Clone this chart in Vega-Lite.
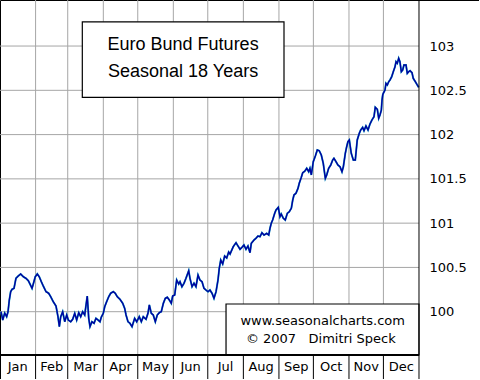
{
  "$schema": "https://vega.github.io/schema/vega-lite/v6.json",
  "width": 479,
  "height": 379,
  "padding": 0,
  "autosize": {"type": "none"},
  "background": "white",
  "config": {"view": {"stroke": "black", "strokeWidth": 1}},
  "datasets": {
    "series": [
      {"day": 0.9, "price": 100.0}, {"day": 2.4, "price": 99.906}, {"day": 4.1, "price": 99.985}, {"day": 5.8, "price": 99.944},
      {"day": 7.0, "price": 100.0}, {"day": 8.1, "price": 100.132}, {"day": 9.3, "price": 100.226}, {"day": 10.5, "price": 100.253},
      {"day": 12.2, "price": 100.264}, {"day": 13.9, "price": 100.377}, {"day": 15.9, "price": 100.403}, {"day": 18.0, "price": 100.426},
      {"day": 20.3, "price": 100.395}, {"day": 22.6, "price": 100.377}, {"day": 24.7, "price": 100.35}, {"day": 26.1, "price": 100.313},
      {"day": 27.9, "price": 100.264}, {"day": 29.0, "price": 100.313}, {"day": 30.7, "price": 100.395}, {"day": 32.5, "price": 100.426},
      {"day": 34.2, "price": 100.395}, {"day": 36.0, "price": 100.339}, {"day": 37.7, "price": 100.29}, {"day": 40.1, "price": 100.226},
      {"day": 42.4, "price": 100.208}, {"day": 44.2, "price": 100.169}, {"day": 46.4, "price": 100.113}, {"day": 48.8, "price": 100.064},
      {"day": 50.5, "price": 99.944}, {"day": 51.7, "price": 99.831}, {"day": 52.9, "price": 99.944}, {"day": 54.6, "price": 100.0},
      {"day": 56.4, "price": 99.887}, {"day": 58.1, "price": 99.963}, {"day": 59.5, "price": 99.906}, {"day": 61.6, "price": 99.887},
      {"day": 63.3, "price": 99.914}, {"day": 65.1, "price": 99.982}, {"day": 66.8, "price": 99.906}, {"day": 68.6, "price": 99.989},
      {"day": 70.3, "price": 99.944}, {"day": 72.0, "price": 100.0}, {"day": 73.8, "price": 99.963}, {"day": 76.0, "price": 100.177},
      {"day": 77.3, "price": 99.925}, {"day": 78.4, "price": 99.831}, {"day": 80.1, "price": 99.887}, {"day": 81.9, "price": 99.869},
      {"day": 83.6, "price": 99.925}, {"day": 85.4, "price": 99.906}, {"day": 87.1, "price": 99.887}, {"day": 88.2, "price": 99.937},
      {"day": 90.0, "price": 99.982}, {"day": 91.2, "price": 100.056}, {"day": 92.9, "price": 100.113}, {"day": 94.7, "price": 100.169},
      {"day": 96.4, "price": 100.208}, {"day": 98.7, "price": 100.226}, {"day": 100.4, "price": 100.208}, {"day": 102.2, "price": 100.169},
      {"day": 104.5, "price": 100.14}, {"day": 106.9, "price": 100.095}, {"day": 108.6, "price": 100.038}, {"day": 109.8, "price": 99.963},
      {"day": 111.5, "price": 99.887}, {"day": 113.2, "price": 99.869}, {"day": 115.0, "price": 99.831}, {"day": 117.3, "price": 99.925},
      {"day": 119.1, "price": 99.887}, {"day": 121.3, "price": 99.944}, {"day": 123.1, "price": 99.887}, {"day": 124.8, "price": 99.944},
      {"day": 127.2, "price": 99.914}, {"day": 128.9, "price": 99.982}, {"day": 130.1, "price": 100.076}, {"day": 131.8, "price": 99.982},
      {"day": 133.5, "price": 99.963}, {"day": 135.3, "price": 99.887}, {"day": 137.0, "price": 99.963}, {"day": 138.8, "price": 99.989},
      {"day": 140.5, "price": 100.0}, {"day": 142.3, "price": 100.095}, {"day": 144.0, "price": 100.151}, {"day": 145.7, "price": 100.163},
      {"day": 147.5, "price": 100.132}, {"day": 149.2, "price": 100.095}, {"day": 150.4, "price": 100.177}, {"day": 152.2, "price": 100.189},
      {"day": 153.9, "price": 100.358}, {"day": 155.7, "price": 100.313}, {"day": 156.8, "price": 100.339}, {"day": 158.5, "price": 100.282},
      {"day": 160.3, "price": 100.321}, {"day": 162.0, "price": 100.377}, {"day": 164.4, "price": 100.463}, {"day": 165.5, "price": 100.377},
      {"day": 167.3, "price": 100.282}, {"day": 169.0, "price": 100.321}, {"day": 170.7, "price": 100.282}, {"day": 172.5, "price": 100.414},
      {"day": 174.2, "price": 100.358}, {"day": 176.0, "price": 100.339}, {"day": 177.7, "price": 100.264}, {"day": 179.4, "price": 100.245},
      {"day": 181.2, "price": 100.226}, {"day": 182.9, "price": 100.245}, {"day": 184.7, "price": 100.208}, {"day": 186.4, "price": 100.151},
      {"day": 188.2, "price": 100.226}, {"day": 189.9, "price": 100.358}, {"day": 191.0, "price": 100.49}, {"day": 192.3, "price": 100.584},
      {"day": 194.0, "price": 100.539}, {"day": 195.7, "price": 100.629}, {"day": 197.5, "price": 100.606}, {"day": 199.2, "price": 100.674},
      {"day": 200.4, "price": 100.652}, {"day": 203.2, "price": 100.734}, {"day": 205.6, "price": 100.779}, {"day": 207.3, "price": 100.742},
      {"day": 209.1, "price": 100.705}, {"day": 210.8, "price": 100.727}, {"day": 212.5, "price": 100.753}, {"day": 214.3, "price": 100.705},
      {"day": 216.0, "price": 100.742}, {"day": 217.8, "price": 100.666}, {"day": 218.9, "price": 100.772}, {"day": 221.3, "price": 100.81},
      {"day": 223.0, "price": 100.829}, {"day": 224.7, "price": 100.855}, {"day": 226.5, "price": 100.847}, {"day": 228.2, "price": 100.892},
      {"day": 230.0, "price": 100.866}, {"day": 232.3, "price": 100.885}, {"day": 234.1, "price": 100.866}, {"day": 235.2, "price": 100.942},
      {"day": 236.3, "price": 100.998}, {"day": 237.5, "price": 101.035}, {"day": 239.3, "price": 101.111}, {"day": 240.4, "price": 101.148},
      {"day": 242.4, "price": 101.179}, {"day": 243.9, "price": 101.073}, {"day": 245.0, "price": 101.103}, {"day": 246.8, "price": 101.055},
      {"day": 248.5, "price": 101.035}, {"day": 250.3, "price": 101.111}, {"day": 252.0, "price": 101.129}, {"day": 253.8, "price": 101.168},
      {"day": 255.0, "price": 101.261}, {"day": 256.1, "price": 101.318}, {"day": 257.8, "price": 101.337}, {"day": 259.6, "price": 101.393},
      {"day": 260.7, "price": 101.45}, {"day": 262.5, "price": 101.518}, {"day": 263.7, "price": 101.569}, {"day": 265.4, "price": 101.585},
      {"day": 267.2, "price": 101.619}, {"day": 268.9, "price": 101.581}, {"day": 270.0, "price": 101.619}, {"day": 271.2, "price": 101.544},
      {"day": 272.9, "price": 101.694}, {"day": 274.7, "price": 101.758}, {"day": 276.4, "price": 101.826}, {"day": 278.1, "price": 101.818},
      {"day": 279.9, "price": 101.769}, {"day": 281.6, "price": 101.676}, {"day": 283.4, "price": 101.506}, {"day": 284.6, "price": 101.544},
      {"day": 286.3, "price": 101.619}, {"day": 288.1, "price": 101.656}, {"day": 289.8, "price": 101.713}, {"day": 290.9, "price": 101.732},
      {"day": 292.7, "price": 101.694}, {"day": 294.4, "price": 101.656}, {"day": 296.2, "price": 101.637}, {"day": 297.9, "price": 101.581},
      {"day": 299.1, "price": 101.637}, {"day": 300.8, "price": 101.788}, {"day": 302.0, "price": 101.863}, {"day": 303.1, "price": 101.92},
      {"day": 304.3, "price": 101.939}, {"day": 306.0, "price": 101.788}, {"day": 307.8, "price": 101.713}, {"day": 309.5, "price": 101.713},
      {"day": 311.2, "price": 101.939}, {"day": 313.0, "price": 102.014}, {"day": 314.2, "price": 102.052}, {"day": 315.9, "price": 102.082},
      {"day": 317.1, "price": 102.044}, {"day": 318.8, "price": 102.097}, {"day": 320.6, "price": 102.052}, {"day": 322.3, "price": 102.119},
      {"day": 324.0, "price": 102.165}, {"day": 325.8, "price": 102.202}, {"day": 326.9, "price": 102.308}, {"day": 328.7, "price": 102.285},
      {"day": 329.9, "price": 102.184}, {"day": 331.0, "price": 102.221}, {"day": 332.2, "price": 102.277}, {"day": 332.8, "price": 102.39},
      {"day": 333.4, "price": 102.447}, {"day": 333.9, "price": 102.466}, {"day": 335.4, "price": 102.503}, {"day": 336.2, "price": 102.579},
      {"day": 337.4, "price": 102.56}, {"day": 338.6, "price": 102.597}, {"day": 339.7, "price": 102.616}, {"day": 341.2, "price": 102.653},
      {"day": 342.6, "price": 102.71}, {"day": 344.1, "price": 102.766}, {"day": 345.0, "price": 102.823}, {"day": 346.1, "price": 102.805},
      {"day": 347.3, "price": 102.861}, {"day": 348.4, "price": 102.823}, {"day": 349.6, "price": 102.71}, {"day": 350.8, "price": 102.729},
      {"day": 351.9, "price": 102.786}, {"day": 353.7, "price": 102.786}, {"day": 354.8, "price": 102.692}, {"day": 356.0, "price": 102.71},
      {"day": 357.2, "price": 102.721}, {"day": 358.9, "price": 102.699}, {"day": 360.0, "price": 102.635}, {"day": 361.8, "price": 102.597},
      {"day": 363.5, "price": 102.56}, {"day": 364.7, "price": 102.534}
    ],
    "months": [
      {"name": "Jan", "start": 0, "end": 31}, {"name": "Feb", "start": 31, "end": 59}, {"name": "Mar", "start": 59, "end": 90},
      {"name": "Apr", "start": 90, "end": 120}, {"name": "May", "start": 120, "end": 151}, {"name": "Jun", "start": 151, "end": 181},
      {"name": "Jul", "start": 181, "end": 212}, {"name": "Aug", "start": 212, "end": 243}, {"name": "Sep", "start": 243, "end": 273},
      {"name": "Oct", "start": 273, "end": 304}, {"name": "Nov", "start": 304, "end": 334}, {"name": "Dec", "start": 334, "end": 365}
    ],
    "levels": [{"v": 100}, {"v": 100.5}, {"v": 101}, {"v": 101.5}, {"v": 102}, {"v": 102.5}, {"v": 103}],
    "frame": [{"x0": 0, "x1": 365, "ybase": 99.51, "ytop": 103.52, "ybot": 99.24}],
    "boxes": [
      {"box": "title", "x0": 71.7, "x1": 247.4, "y0": 102.421, "y1": 103.274},
      {"box": "credit", "x0": 196.9, "x1": 365, "y0": 99.511, "y1": 100.087}
    ],
    "titles": [
      {"text": "Euro Bund Futures", "x": 159.5, "y": 103.011},
      {"text": "Seasonal 18 Years", "x": 159.5, "y": 102.71}
    ],
    "credits": [
      {"text": "www.seasonalcharts.com", "x": 281.1, "y": 99.898},
      {"text": "© 2007\u00a0\u00a0\u00a0Dimitri Speck", "x": 279.5, "y": 99.688}
    ]
  },
  "layer": [
    {
      "data": {"name": "levels"},
      "transform": [{"calculate": "0", "as": "a"}, {"calculate": "365", "as": "b"}],
      "mark": {"type": "rule", "color": "#A6A6A6", "strokeWidth": 1},
      "encoding": {
        "x": {"field": "a", "type": "quantitative", "scale": {"domain": [0, 417.27], "nice": false, "zero": false}, "axis": null},
        "x2": {"field": "b"},
        "y": {"field": "v", "type": "quantitative", "scale": {"domain": [99.24, 103.52], "nice": false, "zero": false},
          "axis": {"orient": "right", "offset": -60, "values": [100, 100.5, 101, 101.5, 102, 102.5, 103], "format": "~g",
            "grid": false, "domain": false, "ticks": false, "labelPadding": 10, "labelFont": "DejaVu Sans", "labelFontSize": 13,
            "labelColor": "black", "labelAlign": "left", "title": null}}
      }
    },
    {
      "data": {"name": "months"},
      "transform": [{"filter": "datum.start > 0"}, {"calculate": "99.51", "as": "lo"}, {"calculate": "103.52", "as": "hi"}],
      "mark": {"type": "rule", "color": "#A6A6A6", "strokeWidth": 1},
      "encoding": {
        "x": {"field": "start", "type": "quantitative"},
        "y": {"field": "lo", "type": "quantitative"},
        "y2": {"field": "hi"}
      }
    },
    {
      "data": {"name": "series"},
      "mark": {"type": "line", "color": "#1AA8C4", "strokeWidth": 1.9, "interpolate": "linear"},
      "encoding": {
        "x": {"field": "day", "type": "quantitative"},
        "y": {"field": "price", "type": "quantitative"}
      }
    },
    {
      "data": {"name": "series"},
      "mark": {"type": "line", "color": "#0000A0", "strokeWidth": 1.4, "interpolate": "linear"},
      "encoding": {
        "x": {"field": "day", "type": "quantitative"},
        "y": {"field": "price", "type": "quantitative"}
      }
    },
    {
      "data": {"name": "boxes"},
      "mark": {"type": "rect", "fill": "white", "stroke": "black", "strokeWidth": 1.2},
      "encoding": {
        "x": {"field": "x0", "type": "quantitative"},
        "x2": {"field": "x1"},
        "y": {"field": "y0", "type": "quantitative"},
        "y2": {"field": "y1"}
      }
    },
    {
      "data": {"name": "titles"},
      "mark": {"type": "text", "font": "Liberation Sans", "fontSize": 18, "color": "black", "align": "center", "baseline": "middle"},
      "encoding": {
        "x": {"field": "x", "type": "quantitative"},
        "y": {"field": "y", "type": "quantitative"},
        "text": {"field": "text"}
      }
    },
    {
      "data": {"name": "credits"},
      "mark": {"type": "text", "font": "DejaVu Sans", "fontSize": 13, "color": "black", "align": "center", "baseline": "middle"},
      "encoding": {
        "x": {"field": "x", "type": "quantitative"},
        "y": {"field": "y", "type": "quantitative"},
        "text": {"field": "text"}
      }
    },
    {
      "data": {"name": "frame"},
      "mark": {"type": "rule", "color": "black", "strokeWidth": 2},
      "encoding": {
        "x": {"field": "x0", "type": "quantitative"},
        "x2": {"field": "x1"},
        "y": {"field": "ybase", "type": "quantitative"}
      }
    },
    {
      "data": {"name": "frame"},
      "mark": {"type": "rule", "color": "black", "strokeWidth": 1},
      "encoding": {
        "x": {"field": "x1", "type": "quantitative"},
        "y": {"field": "ybot", "type": "quantitative"},
        "y2": {"field": "ytop"}
      }
    },
    {
      "data": {"name": "months"},
      "transform": [{"filter": "datum.start > 0"}, {"calculate": "99.24", "as": "lo"}, {"calculate": "99.51", "as": "hi"}],
      "mark": {"type": "rule", "color": "black", "strokeWidth": 1},
      "encoding": {
        "x": {"field": "start", "type": "quantitative"},
        "y": {"field": "lo", "type": "quantitative"},
        "y2": {"field": "hi"}
      }
    },
    {
      "data": {"name": "months"},
      "transform": [{"calculate": "(datum.start + datum.end) / 2", "as": "mid"}, {"calculate": "99.375", "as": "ly"}],
      "mark": {"type": "text", "font": "DejaVu Sans", "fontSize": 13, "color": "black", "align": "center", "baseline": "middle"},
      "encoding": {
        "x": {"field": "mid", "type": "quantitative"},
        "y": {"field": "ly", "type": "quantitative"},
        "text": {"field": "name"}
      }
    }
  ]
}
